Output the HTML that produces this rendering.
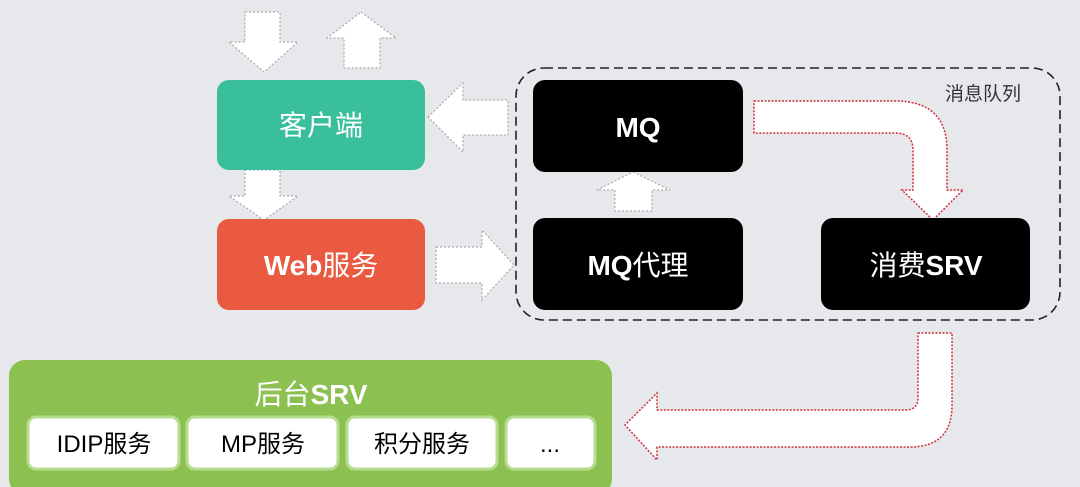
<!DOCTYPE html>
<html><head><meta charset="utf-8"><style>
html,body{margin:0;padding:0;background:#e7e8ec;}
svg{display:block}
text{font-family:"Liberation Sans","Noto Sans CJK SC",sans-serif;}
</style></head><body>
<svg width="1080" height="487" viewBox="0 0 1080 487" xmlns="http://www.w3.org/2000/svg">
<rect width="1080" height="487" fill="#e7e8ec"/>
<!-- dashed container -->
<rect x="516" y="68" width="544" height="252" rx="28" fill="none" stroke="#222" stroke-width="1.6" stroke-dasharray="9,5"/>
<text x="983" y="100" font-size="19" fill="#333" text-anchor="middle">消息队列</text>
<!-- grey dotted arrows -->
<g fill="#fff" stroke="#aaa" stroke-width="1.2" stroke-dasharray="2,2">
<polygon points="245,12 280,12 280,42 298,42 264,72 229,42 245,42"/>
<polygon points="361,12 396,38 380,38 380,68 344,68 344,38 327,38"/>
<polygon points="428,117 463,83 463,100 508,100 508,135 463,135 463,152"/>
<polygon points="245,170 280,170 280,196 298,196 264,220 229,196 245,196"/>
<polygon points="436,247 482,247 482,230 514,265 482,300 482,283 436,283"/>
<polygon points="633,172 670,190 652,190 652,211 615,211 615,190 597,190"/>
</g>
<!-- red dotted curved arrows -->
<g fill="#fff" stroke="#d0303a" stroke-width="1.5" stroke-dasharray="2,1.5">
<path d="M754,101 L895,101 Q947,101 947,150 L947,190 L963,190 L933,220 L902,190 L913,190 L913,150 Q913,133 895,133 L754,133 Z"/>
<path d="M918,333 L952,333 L952,405 Q952,447 910,447 L657,447 L657,460 L625,425 L657,393 L657,410 L905,410 Q918,410 918,398 Z"/>
</g>
<!-- nodes -->
<rect x="217" y="80" width="208" height="90" rx="12" fill="#3abf9d"/>
<text x="321" y="135" font-size="28" fill="#fff" text-anchor="middle">客户端</text>
<rect x="217" y="219" width="208" height="91" rx="12" fill="#e95a40"/>
<text x="321" y="275" font-size="28" fill="#fff" text-anchor="middle" font-weight="bold">Web<tspan font-weight="normal">服务</tspan></text>
<rect x="533" y="80" width="210" height="92" rx="12" fill="#000"/>
<text x="638" y="137" font-size="28" fill="#fff" text-anchor="middle" font-weight="bold">MQ</text>
<rect x="533" y="218" width="210" height="92" rx="12" fill="#000"/>
<text x="638" y="275" font-size="28" fill="#fff" text-anchor="middle" font-weight="bold">MQ<tspan font-weight="normal">代理</tspan></text>
<rect x="821" y="218" width="209" height="92" rx="12" fill="#000"/>
<text x="926" y="275" font-size="28" fill="#fff" text-anchor="middle"><tspan>消费</tspan><tspan font-weight="bold">SRV</tspan></text>
<!-- backend -->
<rect x="9" y="360" width="603" height="135" rx="16" fill="#8cc152"/>
<text x="311" y="404" font-size="28" fill="#fff" text-anchor="middle"><tspan>后台</tspan><tspan font-weight="bold">SRV</tspan></text>
<g fill="#fff" stroke="#b5dc8f" stroke-width="3">
<rect x="28" y="417" width="151" height="52" rx="8"/>
<rect x="187" y="417" width="151" height="52" rx="8"/>
<rect x="347" y="417" width="150" height="52" rx="8"/>
<rect x="506" y="417" width="89" height="52" rx="8"/>
</g>
<g font-size="24" fill="#000" text-anchor="middle">
<text x="104" y="452">IDIP服务</text>
<text x="263" y="452">MP服务</text>
<text x="422" y="452">积分服务</text>
<text x="550" y="452">...</text>
</g>
</svg>
</body></html>
